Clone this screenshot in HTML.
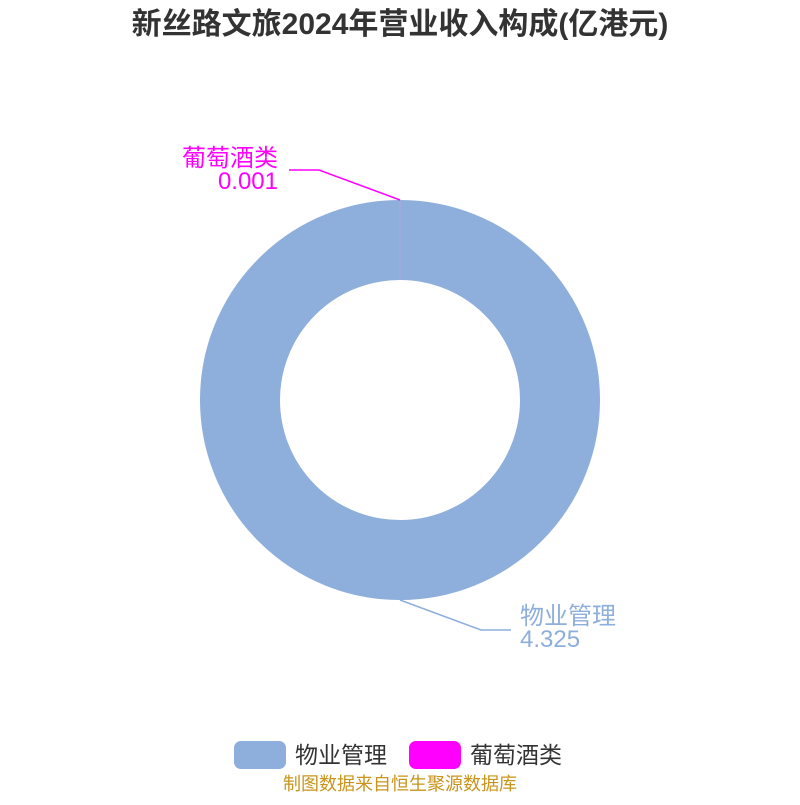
<!DOCTYPE html>
<html><head><meta charset="utf-8"><style>
body{margin:0;width:800px;height:800px;background:#fff;font-family:"Liberation Sans","Noto Sans CJK SC",sans-serif;}
</style></head><body>
<svg width="800" height="800" xmlns="http://www.w3.org/2000/svg" style="font-family:'Liberation Sans','Noto Sans CJK SC',sans-serif">
<text x="400" y="34" text-anchor="middle" font-size="30" font-weight="bold" fill="#333">新丝路文旅2024年营业收入构成(亿港元)</text>
<circle cx="400" cy="400" r="160" fill="none" stroke="#8eaedb" stroke-width="80"/>
<line x1="400" y1="200" x2="400" y2="280" stroke="#d49ee6" stroke-width="0.5"/>
<polyline points="400,200 319,170 289,170" fill="none" stroke="#ff00ff" stroke-width="1.5"/>
<text x="278" y="166" text-anchor="end" font-size="24" fill="#ff00ff">葡萄酒类</text>
<text x="278" y="189" text-anchor="end" font-size="24" fill="#ff00ff">0.001</text>
<polyline points="400,600 481,630 511,630" fill="none" stroke="#8eaedb" stroke-width="1.5"/>
<text x="520" y="624" font-size="24" fill="#8eaedb">物业管理</text>
<text x="520" y="647" font-size="24" fill="#8eaedb">4.325</text>
<rect x="234" y="741" width="52" height="28" rx="7" fill="#8eaedb"/>
<text x="295" y="763" font-size="23" fill="#333">物业管理</text>
<rect x="409" y="741" width="52" height="28" rx="7" fill="#ff00ff"/>
<text x="470" y="763" font-size="23" fill="#333">葡萄酒类</text>
<text x="400" y="790" text-anchor="middle" font-size="18" fill="#c8941b">制图数据来自恒生聚源数据库</text>
</svg>
</body></html>
